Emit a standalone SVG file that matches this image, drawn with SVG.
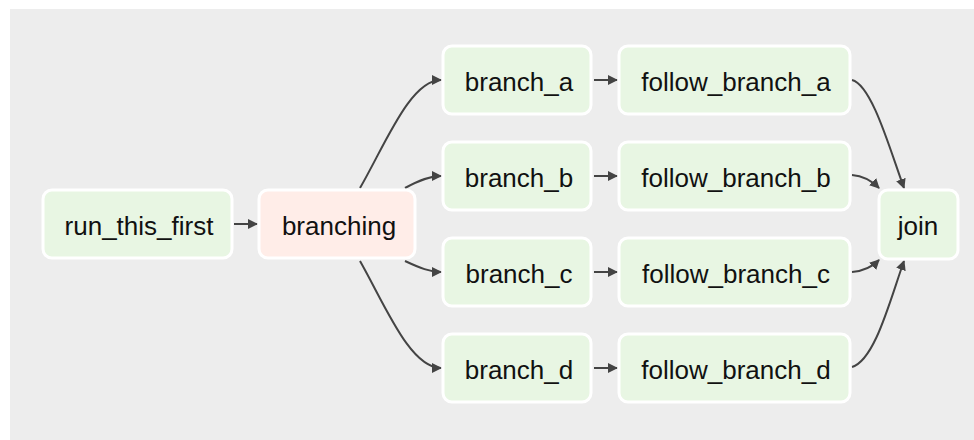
<svg xmlns="http://www.w3.org/2000/svg" width="974" height="440" viewBox="0 0 974 440">
<defs>
<style>
.bg{fill:#ededed}
.n rect{fill:#e8f6e3;stroke:#ffffff;stroke-width:3}
.n.p rect{fill:#ffede8}
.n text{font-family:"Liberation Sans",Arial,sans-serif;font-size:26px;fill:#111;text-anchor:middle}
.e path{fill:none;stroke:#444;stroke-width:2;marker-end:url(#ah)}
</style>
<marker id="ah" viewBox="0 0 10 10" refX="9" refY="5" markerWidth="5" markerHeight="5" orient="auto" markerUnits="strokeWidth">
<path d="M0,0 L10,5 L0,10 z" fill="#444"/>
</marker>
</defs>
<rect class="bg" x="10" y="9" width="964" height="431"/>
<g class="e" id="edges">
<path d="M234,224 L257,224"/>
<path d="M360,188 C385,145 410,80 441,80"/>
<path d="M405,188 C420,180 430,176 441,176"/>
<path d="M405,261 C420,268 430,272 441,272"/>
<path d="M360,261 C385,305 410,368 441,368"/>
<path d="M594,80 L617,80"/>
<path d="M594,176 L617,176"/>
<path d="M594,272 L617,272"/>
<path d="M594,368 L617,368"/>
<path d="M852,80 C872,85 890,150 904,188"/>
<path d="M852,175 C865,176 873,182 879,188"/>
<path d="M852,272 C865,271 873,266 879,260"/>
<path d="M852,367 C875,360 890,300 904,261"/>
</g>
<g class="n" id="run_this_first"><rect x="43" y="190" width="189" height="68" rx="9"/><text x="139" y="235">run_this_first</text></g>
<g class="n p" id="branching"><rect x="259" y="190" width="156" height="68" rx="9"/><text x="339" y="235">branching</text></g>
<g class="n" id="branch_a"><rect x="443" y="46" width="148" height="68" rx="9"/><text x="519" y="91">branch_a</text></g>
<g class="n" id="branch_b"><rect x="443" y="142" width="148" height="68" rx="9"/><text x="519" y="187">branch_b</text></g>
<g class="n" id="branch_c"><rect x="443" y="238" width="148" height="68" rx="9"/><text x="519" y="283">branch_c</text></g>
<g class="n" id="branch_d"><rect x="443" y="334" width="148" height="68" rx="9"/><text x="519" y="379">branch_d</text></g>
<g class="n" id="follow_branch_a"><rect x="619" y="46" width="231" height="68" rx="9"/><text x="736" y="91">follow_branch_a</text></g>
<g class="n" id="follow_branch_b"><rect x="619" y="142" width="231" height="68" rx="9"/><text x="736" y="187">follow_branch_b</text></g>
<g class="n" id="follow_branch_c"><rect x="619" y="238" width="231" height="68" rx="9"/><text x="736" y="283">follow_branch_c</text></g>
<g class="n" id="follow_branch_d"><rect x="619" y="334" width="231" height="68" rx="9"/><text x="736" y="379">follow_branch_d</text></g>
<g class="n" id="join"><rect x="879" y="190" width="79" height="69" rx="9"/><text x="918" y="235">join</text></g>
</svg>
